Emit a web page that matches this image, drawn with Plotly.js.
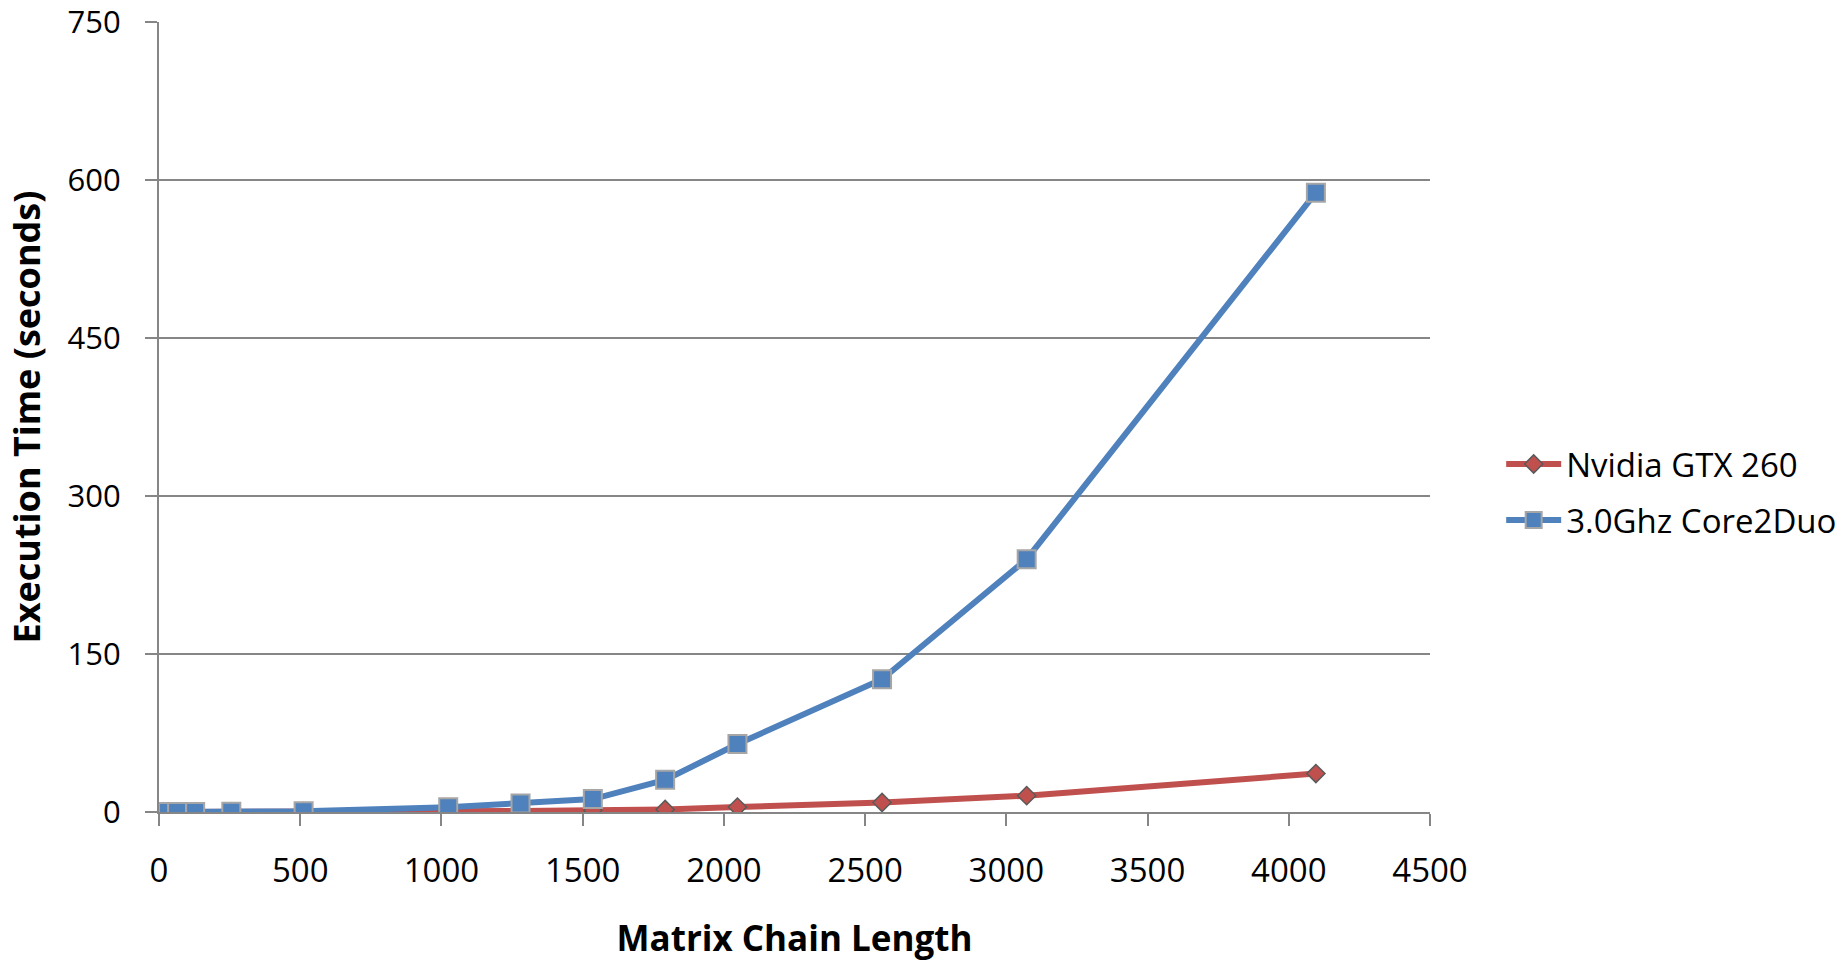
<!DOCTYPE html>
<html>
<head>
<meta charset="utf-8">
<script src="https://cdn.plot.ly/plotly-3.0.1.min.js"></script>
<style>
html,body{margin:0;padding:0;background:#fff;}
#chart{width:1839px;height:964px;}
</style>
</head>
<body>
<div id="chart"></div>
<script>
// Matrix chain lengths (x) and execution times in seconds
var chainLength = [16, 32, 64, 128, 256, 512, 1024, 1280, 1536, 1792, 2048, 2560, 3072, 4096];
var gpuTimes = [0.01, 0.01, 0.02, 0.05, 0.1, 0.3, 0.6, 1.0, 1.6, 2.4, 4.7, 9.0, 15.5, 36.5];
var cpuTimes = [0.01, 0.02, 0.05, 0.1, 0.2, 0.6, 4.5, 8.0, 12.3, 30.5, 64.5, 126, 240, 588];
var seriesNames = ["Nvidia GTX 260", "3.0Ghz Core2Duo"];
var xTitle = "Matrix Chain Length";
var yTitle = "Execution Time (seconds)";
var yTicks = [0, 150, 300, 450, 600, 750];
var xTicks = [0, 500, 1000, 1500, 2000, 2500, 3000, 3500, 4000, 4500];

var font = "'Open Sans', 'Liberation Sans', sans-serif";
var axisGrey = "#868686";

var traces = [
  {
    x: chainLength, y: gpuTimes, name: seriesNames[0], type: "scatter", mode: "lines+markers",
    legendgroup: "a",
    line: {color: "#C0504D", width: 6},
    marker: {symbol: "diamond", size: 14, color: "#C0504D", line: {color: "#5A5A5A", width: 1.5}}
  },
  {
    x: chainLength, y: cpuTimes, name: seriesNames[1], type: "scatter", mode: "lines+markers",
    legendgroup: "b",
    line: {color: "#4F81BD", width: 6},
    marker: {symbol: "square", size: 18, color: "#4F81BD", line: {color: "#A6A6A6", width: 2}}
  }
];

var layout = {
  width: 1839, height: 964,
  paper_bgcolor: "#ffffff", plot_bgcolor: "#ffffff",
  margin: {l: 159, r: 409, t: 22, b: 152, autoexpand: false},
  font: {family: font, size: 31, color: "#000"},
  showlegend: true,
  legend: {
    x: 1.056, y: 0.405, xanchor: "left", yanchor: "middle",
    font: {family: font, size: 33, color: "#000"},
    tracegroupgap: 10, itemwidth: 55, bgcolor: "rgba(0,0,0,0)"
  },
  xaxis: {
    range: [0, 4500], tickvals: xTicks, ticktext: xTicks.map(String),
    showgrid: false, zeroline: false,
    showline: true, linecolor: axisGrey, linewidth: 2,
    ticks: "outside", ticklen: 12, tickwidth: 2, tickcolor: axisGrey,
    ticklabelstandoff: 16, ticklabeloverflow: "allow",
    tickfont: {family: font, size: 33, color: "#000"},
    title: {text: xTitle, font: {family: font, size: 35, color: "#000", weight: "bold"}, standoff: 36}
  },
  yaxis: {
    range: [0, 750], tickvals: yTicks, ticktext: yTicks.map(String),
    showgrid: true, gridcolor: axisGrey, gridwidth: 1.5,
    zeroline: false,
    showline: true, linecolor: axisGrey, linewidth: 2,
    ticks: "outside", ticklen: 12, tickwidth: 2, tickcolor: axisGrey,
    ticklabelstandoff: 18, ticklabeloverflow: "allow",
    tickfont: {family: font, size: 31, color: "#000"},
    title: {text: yTitle, font: {family: font, size: 36, color: "#000", weight: "bold"}, standoff: 16}
  }
};

Plotly.newPlot("chart", traces, layout, {displayModeBar: false, staticPlot: true});
</script>
</body>
</html>
